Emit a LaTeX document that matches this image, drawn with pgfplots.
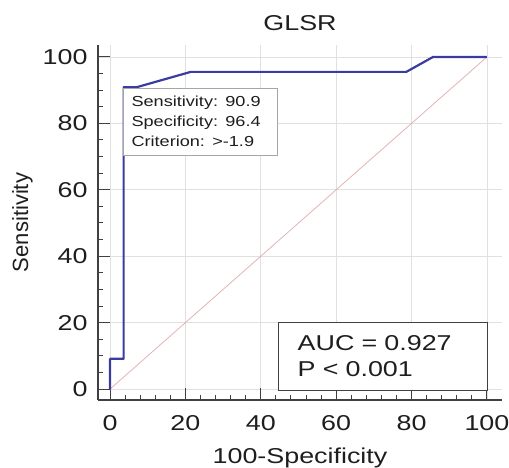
\documentclass[border=0pt]{standalone}
\usepackage{pgfplots}
\pgfplotsset{compat=1.18}
\usepackage{fontspec}
\setmainfont{Liberation Sans}[FakeStretch=1.25]
\newfontfamily\ylfont{Liberation Sans}

\definecolor{rocblue}{RGB}{58,60,160}
\definecolor{diagpink}{RGB}{225,180,180}
\definecolor{txt}{RGB}{30,30,30}

\begin{document}
\begin{tikzpicture}
  \useasboundingbox (-98pt,-68pt) rectangle (411pt,400pt);
  \begin{axis}[
      at={(0,0)}, anchor=south west,
      scale only axis, width=404pt, height=355pt,
      xmin=-3.2, xmax=104, ymin=-3.3, ymax=103.6,
      axis lines=left, axis line style={-, line width=1.6pt, black!75},
      xtick={0,20,...,100}, ytick={0,20,...,100},
      minor x tick num=4, minor y tick num=3,
      tick align=inside, major tick length=12pt, minor tick length=5pt,
      tick style={line width=1pt, black!75},
      grid=major, major grid style={black!12, line width=0.8pt},
      ticklabel style={font=\fontsize{21.5}{24}\selectfont, text=txt},
      xticklabel style={yshift=-12pt},
      yticklabel style={xshift=-7pt},
      /pgf/number format/assume math mode=true,
      xlabel={100-Specificity}, ylabel={Sensitivity},
      xlabel style={font=\fontsize{21.5}{24}\selectfont, text=txt, yshift=-10pt},
      ylabel style={font=\ylfont\fontsize{22}{24}\selectfont, text=txt, yshift=3pt},
      title={GLSR}, title style={font=\fontsize{21.5}{24}\selectfont, text=txt, yshift=5pt},
      clip=false,
    ]
    \addplot[diagpink, line width=0.8pt] coordinates {(0,0) (100,100)};
    \addplot[rocblue, line width=2.2pt, line join=round] coordinates {
      (0,0) (0,9.1) (3.6,9.1) (3.6,90.9) (7.1,90.9) (21.4,95.5)
      (78.6,95.5) (85.7,100) (100,100)};
    \node[draw=black!35, line width=0.9pt, fill=white, anchor=north west,
          align=left, font=\fontsize{14.5}{20}\selectfont, text=txt,
          inner xsep=8pt, inner ysep=5pt,
          text width=138pt, minimum height=67pt]
      at (axis cs:3.45,90.7) {Sensitivity: 90.9\\Specificity: 96.4\\Criterion: >-1.9};
    \node[draw=black!75, line width=1.1pt, fill=white, anchor=north west,
          align=left, font=\fontsize{21.5}{26}\selectfont, text=txt,
          inner xsep=19pt, inner ysep=6pt,
          text width=171pt, minimum height=68pt]
      at (axis cs:44.6,20.2) {AUC = 0.927\\P < 0.001};
  \end{axis}
\end{tikzpicture}
\end{document}
